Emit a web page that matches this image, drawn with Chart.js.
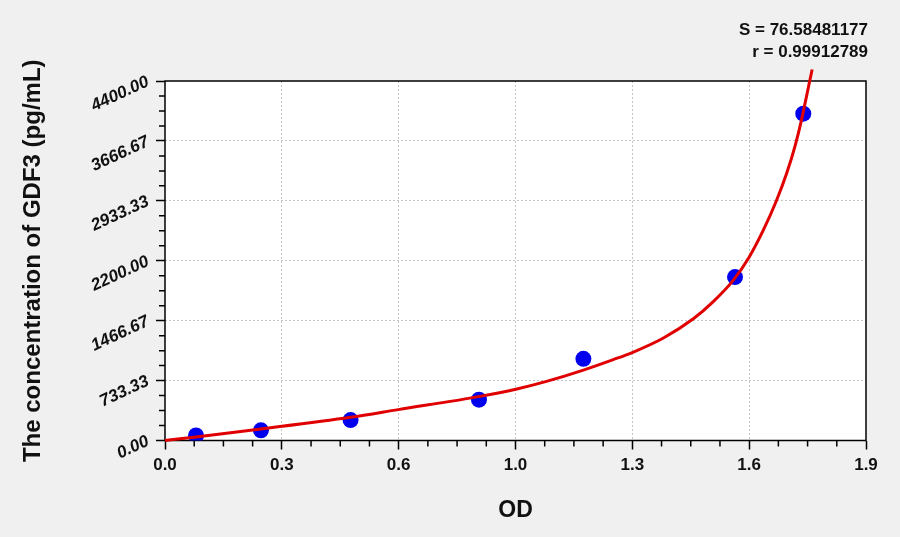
<!DOCTYPE html>
<html>
<head>
<meta charset="utf-8">
<script src="https://cdn.jsdelivr.net/npm/chart.js@4.4.0/dist/chart.umd.min.js"></script>
<style>
  html, body { margin: 0; padding: 0; background: #f0f0f0; }
</style>
</head>
<body>
<canvas id="chart" width="900" height="537"></canvas>
<script>
// Standard points (OD vs concentration)
const odValues = [0.084, 0.260, 0.503, 0.851, 1.134, 1.545, 1.730];
const concValues = [62.5, 125, 250, 500, 1000, 2000, 4000];

// Fitted curve
const curveOD = [0, 0.084, 0.260, 0.503, 0.632, 0.854, 0.951, 1.034, 1.134, 1.215, 1.268,
  1.351, 1.432, 1.486, 1.540, 1.584, 1.622, 1.658, 1.685, 1.708, 1.726, 1.740, 1.754];
const curveConc = [0, 44, 141, 284, 378, 540, 628, 724, 862, 990, 1080,
  1255, 1490, 1700, 1960, 2250, 2577, 2944, 3270, 3610, 3940, 4240, 4540];

// Axis ticks
const xTicks = [0, 0.31667, 0.63333, 0.95, 1.26667, 1.58333, 1.9];
const xTickLabels = ['0.0', '0.3', '0.6', '1.0', '1.3', '1.6', '1.9'];
const yTicks = [0, 733.33, 1466.67, 2200, 2933.33, 3666.67, 4400];
const yTickLabels = ['0.00', '733.33', '1466.67', '2200.00', '2933.33', '3666.67', '4400.00'];

// Fit statistics shown top right
const statLines = ['S = 76.58481177', 'r = 0.99912789'];

const fontFamily = "'Liberation Sans', Arial, sans-serif";

// Paint page background and white plot area
const plotBackground = {
  id: 'plotBackground',
  beforeDraw(chart) {
    const { ctx, chartArea: a } = chart;
    ctx.save();
    ctx.fillStyle = '#f0f0f0';
    ctx.fillRect(0, 0, chart.width, chart.height);
    ctx.fillStyle = '#ffffff';
    ctx.fillRect(a.left, a.top, a.right - a.left, a.bottom - a.top);
    ctx.restore();
  },
};

// Frame around the plot area plus the minor tick marks
const plotFrame = {
  id: 'plotFrame',
  beforeDatasetsDraw(chart) {
    const { ctx, chartArea: a, scales } = chart;
    ctx.save();
    ctx.strokeStyle = '#000';
    ctx.lineWidth = 1.5;
    ctx.strokeRect(a.left, a.top, a.right - a.left, a.bottom - a.top);

    ctx.beginPath();
    for (let i = 0; i < xTicks.length - 1; i++) {
      const step = (xTicks[i + 1] - xTicks[i]) / 4;
      for (let k = 1; k < 4; k++) {
        const px = scales.x.getPixelForValue(xTicks[i] + step * k);
        ctx.moveTo(px, a.bottom);
        ctx.lineTo(px, a.bottom + 6);
      }
    }
    for (let i = 0; i < yTicks.length - 1; i++) {
      const step = (yTicks[i + 1] - yTicks[i]) / 4;
      for (let k = 1; k < 4; k++) {
        const py = scales.y.getPixelForValue(yTicks[i] + step * k);
        ctx.moveTo(a.left - 6, py);
        ctx.lineTo(a.left, py);
      }
    }
    ctx.stroke();
    ctx.restore();
  },
  afterDraw(chart) {
    const { ctx, chartArea: a } = chart;
    ctx.save();
    ctx.fillStyle = '#111';
    ctx.font = 'bold 17px ' + fontFamily;
    ctx.textAlign = 'right';
    ctx.textBaseline = 'middle';
    ctx.fillText(statLines[0], a.right + 2, 30);
    ctx.fillText(statLines[1], a.right + 2, 52);
    ctx.restore();
  },
};

const gridColor = (c) =>
  c.index === 0 || c.index === 6 ? 'rgba(0,0,0,0)' : '#c4c4c4';

new Chart(document.getElementById('chart'), {
  type: 'scatter',
  data: {
    datasets: [
      {
        type: 'line',
        label: 'Fit',
        data: curveOD.map((x, i) => ({ x: x, y: curveConc[i] })),
        borderColor: '#e00000',
        borderWidth: 3,
        pointRadius: 0,
        cubicInterpolationMode: 'monotone',
        clip: false,
        order: 0,
      },
      {
        label: 'Standards',
        data: odValues.map((x, i) => ({ x: x, y: concValues[i] })),
        backgroundColor: '#0000ee',
        borderWidth: 0,
        pointRadius: 8,
        order: 1,
      },
    ],
  },
  options: {
    responsive: false,
    animation: false,
    layout: { padding: { top: 81, right: 34, left: 0, bottom: 0 } },
    plugins: {
      legend: { display: false },
      tooltip: { enabled: false },
    },
    scales: {
      x: {
        type: 'linear',
        min: 0,
        max: 1.9,
        afterBuildTicks: (scale) => { scale.ticks = xTicks.map((v) => ({ value: v })); },
        afterFit: (scale) => { scale.height = 96.5; },
        ticks: {
          color: '#111',
          padding: 6,
          font: { family: fontFamily, size: 17, weight: 'bold' },
          callback: (v, i) => xTickLabels[i],
        },
        grid: { color: gridColor, tickColor: '#000', tickLength: 9, tickWidth: 1.5 },
        border: { display: false, dash: [2, 2] },
        title: {
          display: true,
          text: 'OD',
          color: '#111',
          font: { family: fontFamily, size: 23, weight: 'bold' },
          padding: { top: 0, bottom: 13 },
        },
      },
      y: {
        type: 'linear',
        min: 0,
        max: 4400,
        afterBuildTicks: (scale) => { scale.ticks = yTicks.map((v) => ({ value: v })); },
        afterFit: (scale) => { scale.width = 165; },
        ticks: {
          color: '#111',
          padding: 8,
          minRotation: 25,
          maxRotation: 25,
          font: { family: fontFamily, size: 17, weight: 'bold', style: 'italic' },
          callback: (v, i) => yTickLabels[i],
        },
        grid: { color: gridColor, tickColor: '#000', tickLength: 9, tickWidth: 1.5 },
        border: { display: false, dash: [2, 2] },
        title: {
          display: true,
          text: 'The concentration of GDF3 (pg/mL)',
          color: '#111',
          font: { family: fontFamily, size: 24, weight: 'bold' },
          padding: { top: 19, bottom: 0 },
        },
      },
    },
  },
  plugins: [plotBackground, plotFrame],
});
</script>
</body>
</html>
